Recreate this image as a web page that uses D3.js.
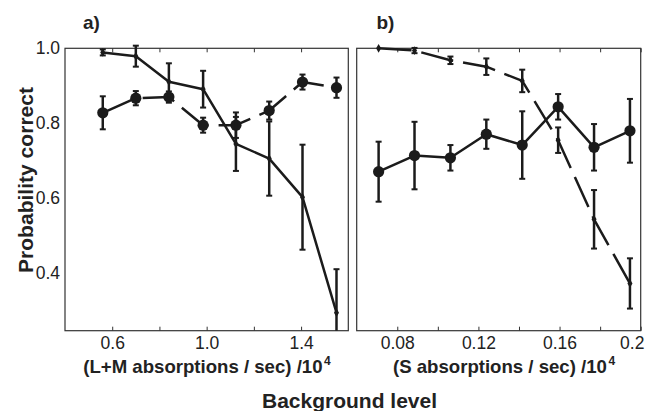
<!DOCTYPE html>
<html>
<head>
<meta charset="utf-8">
<script src="https://cdn.jsdelivr.net/npm/d3@7"></script>
<style>
  body { margin: 0; background: #fff; }
  svg { display: block; }
  text { font-family: "Liberation Sans", Arial, Helvetica, sans-serif; fill: #222; }
</style>
</head>
<body>
<svg id="chart" width="653" height="411"></svg>
<script>
// Panel a: L+M background levels (x 10^4 absorptions / sec)
const lmLevels = [0.56, 0.70, 0.84, 0.985, 1.124, 1.265, 1.406, 1.55];
const lmDecline = [0.989, 0.979, 0.911, 0.891, 0.745, 0.706, 0.603, 0.295];
const lmDeclineErr = [0.008, 0.028, 0.049, 0.049, 0.072, 0.099, 0.14, 0.116];
const lmSteady = [0.828, 0.867, 0.870, 0.795, 0.795, 0.834, 0.910, 0.895];
const lmSteadyErr = [0.044, 0.019, 0.015, 0.02, 0.034, 0.024, 0.02, 0.027];

// Panel b: S background levels (x 10^4 absorptions / sec)
const sLevels = [0.0708, 0.0885, 0.1062, 0.1239, 0.1416, 0.1593, 0.177, 0.1947];
const sDecline = [1.0, 0.994, 0.968, 0.951, 0.913, 0.755, 0.544, 0.373];
const sDeclineErr = [0, 0.007, 0.01, 0.022, 0.03, 0.034, 0.078, 0.067];
const sSteady = [0.671, 0.714, 0.708, 0.771, 0.742, 0.844, 0.736, 0.780];
const sSteadyErr = [0.08, 0.09, 0.034, 0.039, 0.09, 0.034, 0.062, 0.085];

// Axis ticks and labels
const yTicks = [0.4, 0.6, 0.8, 1.0];
const lmTicks = [0.6, 0.8, 1.0, 1.2, 1.4];
const lmTickLabels = ["0.6", "", "1.0", "", "1.4"];
const sTicks = [0.08, 0.10, 0.12, 0.14, 0.16, 0.18, 0.20];
const sTickLabels = ["0.08", "", "0.12", "", "0.16", "", "0.2"];

const INK = "#1b1b1b";
const svg = d3.select("#chart");

const yTop = 48.3, yBottom = 330.7;
const y = d3.scaleLinear().domain([0.247, 1.0]).range([yBottom, yTop]);

function drawPanel(cfg) {
  const x = d3.scaleLinear().domain(cfg.xDomain).range([cfg.x0, cfg.x1]);
  const g = svg.append("g");

  // bottom axis with inward ticks
  const bottom = g.append("g")
    .attr("transform", `translate(0,${yBottom})`)
    .call(d3.axisBottom(x).tickValues(cfg.ticks).tickSizeInner(-4).tickSizeOuter(0).tickPadding(6)
      .tickFormat((d, i) => cfg.tickLabels[i]));
  bottom.select(".domain").remove();
  bottom.selectAll(".tick line").attr("stroke", "#333").attr("stroke-width", 1);
  bottom.selectAll(".tick text").attr("font-size", 17.5).attr("fill", "#222")
    .style("font-family", '"Liberation Sans", Arial, sans-serif');
  if (cfg.lastLabelDx) {
    bottom.selectAll(".tick text").filter((d, i, n) => i === n.length - 1).attr("dx", cfg.lastLabelDx);
  }

  // mirrored top ticks
  const top = g.append("g")
    .attr("transform", `translate(0,${yTop})`)
    .call(d3.axisTop(x).tickValues(cfg.ticks).tickSizeInner(-4).tickSizeOuter(0).tickFormat(""));
  top.select(".domain").remove();
  top.selectAll(".tick line").attr("stroke", "#333").attr("stroke-width", 1);

  if (cfg.showY) {
    const left = g.append("g")
      .attr("transform", `translate(${cfg.x0},0)`)
      .call(d3.axisLeft(y).tickValues(yTicks).tickSize(0).tickPadding(5).tickFormat(d3.format(".1f")));
    left.select(".domain").remove();
    left.selectAll(".tick text").attr("font-size", 17.5).attr("fill", "#222")
      .style("font-family", '"Liberation Sans", Arial, sans-serif');
  }

  // frame
  g.append("rect")
    .attr("x", cfg.x0).attr("y", yTop)
    .attr("width", cfg.x1 - cfg.x0).attr("height", yBottom - yTop)
    .attr("fill", "none").attr("stroke", "#333").attr("stroke-width", 1.2);

  const yMin = y.domain()[0];
  cfg.series.forEach(s => {
    const pts = cfg.levels.map((lv, i) => ({ x: lv, v: s.values[i], e: s.errs[i] }));

    g.append("path")
      .datum(pts)
      .attr("fill", "none")
      .attr("stroke", INK)
      .attr("stroke-width", 2.5)
      .attr("stroke-linejoin", "round")
      .attr("stroke-dasharray", s.dashed ? "33,10" : null)
      .attr("d", d3.line().x(d => x(d.x)).y(d => y(d.v)));

    // error bars
    const eb = g.append("g").attr("stroke", INK).attr("stroke-width", 2.5);
    pts.filter(d => d.e > 0).forEach(d => {
      const cx = x(d.x);
      const hi = d.v + d.e;
      const loRaw = d.v - d.e;
      const lo = Math.max(loRaw, yMin);
      eb.append("line").attr("x1", cx).attr("x2", cx).attr("y1", y(hi)).attr("y2", y(lo));
      eb.append("line").attr("x1", cx - 3).attr("x2", cx + 3).attr("y1", y(hi)).attr("y2", y(hi)).attr("stroke-width", 2);
      if (loRaw >= yMin) {
        eb.append("line").attr("x1", cx - 3).attr("x2", cx + 3).attr("y1", y(lo)).attr("y2", y(lo)).attr("stroke-width", 2);
      }
    });

    // markers
    if (s.marker === "dot") {
      g.append("g").selectAll("circle").data(pts).join("circle")
        .attr("cx", d => x(d.x)).attr("cy", d => y(d.v)).attr("r", 5.6).attr("fill", INK);
    } else {
      g.append("g").selectAll("path").data(pts).join("path")
        .attr("transform", d => `translate(${x(d.x)},${y(d.v)})`)
        .attr("d", d3.symbol(d3.symbolDiamond, 22)).attr("fill", INK);
    }
  });
}

drawPanel({
  x0: 65, x1: 348.3, xDomain: [0.4, 1.6],
  ticks: lmTicks, tickLabels: lmTickLabels, levels: lmLevels, showY: true,
  series: [
    { values: lmSteady, errs: lmSteadyErr, dashed: true, marker: "dot" },
    { values: lmDecline, errs: lmDeclineErr, dashed: false, marker: "small" }
  ]
});

drawPanel({
  x0: 356.7, x1: 640.7, xDomain: [0.06, 0.2],
  ticks: sTicks, tickLabels: sTickLabels, levels: sLevels, showY: false, lastLabelDx: -9,
  series: [
    { values: sSteady, errs: sSteadyErr, dashed: false, marker: "dot" },
    { values: sDecline, errs: sDeclineErr, dashed: true, marker: "small" }
  ]
});

// panel letters
svg.append("text").attr("x", 83).attr("y", 29).attr("font-size", 19).attr("font-weight", "bold").text("a)");
svg.append("text").attr("x", 376.5).attr("y", 29).attr("font-size", 19).attr("font-weight", "bold").text("b)");

// y axis title
svg.append("text")
  .attr("transform", "translate(33,180) rotate(-90)")
  .attr("text-anchor", "middle")
  .attr("font-size", 21).attr("font-weight", "bold")
  .attr("textLength", 186).attr("lengthAdjust", "spacingAndGlyphs")
  .text("Probability correct");

// x axis titles
function xTitle(xStart, label) {
  const t = svg.append("text").attr("x", xStart).attr("y", 373)
    .attr("font-size", 18.6).attr("font-weight", "bold");
  t.append("tspan").text(label);
  t.append("tspan").attr("dx", 1.5).attr("dy", -8).attr("font-size", 12).text("4");
}
xTitle(83.3, "(L+M absorptions / sec) /10");
xTitle(393, "(S absorptions / sec) /10");

svg.append("text").attr("x", 262).attr("y", 408)
  .attr("font-size", 21).attr("font-weight", "bold")
  .attr("textLength", 175).attr("lengthAdjust", "spacingAndGlyphs")
  .text("Background level");
</script>
</body>
</html>
